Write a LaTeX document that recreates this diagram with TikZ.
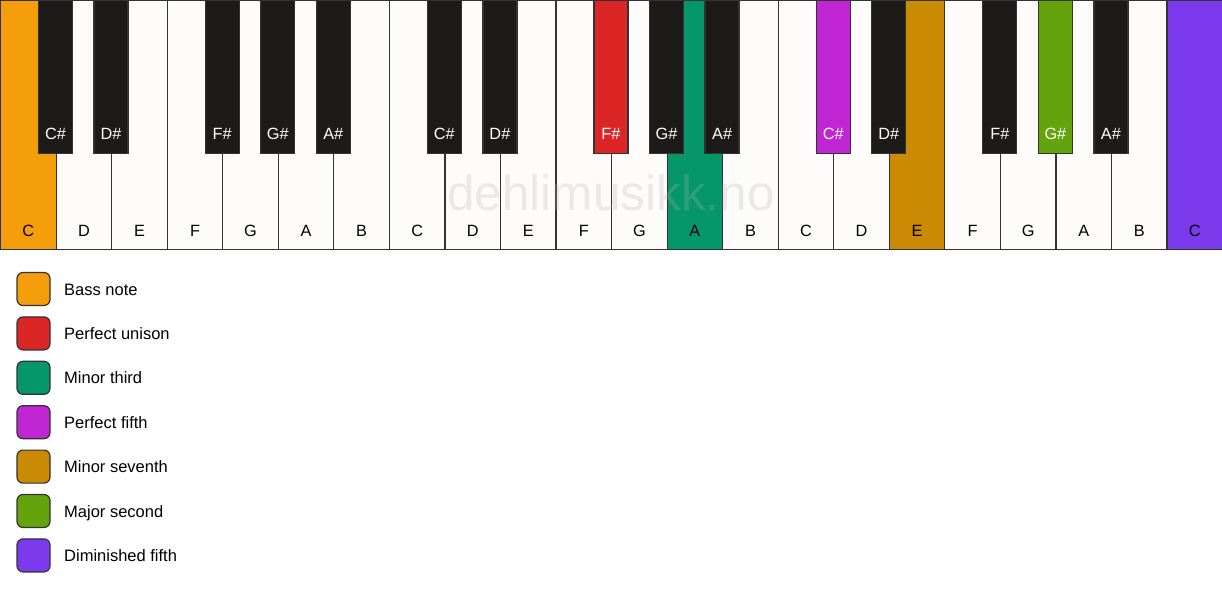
\documentclass[tikz,border=0pt]{standalone}
\usepackage{fontspec}
\setmainfont{Liberation Sans}
\begin{document}
\begin{tikzpicture}[x=1pt,y=-1pt,
  keyline/.style={draw=keyborder,line width=1.2pt},
  whitekey/.style={keyline,fill=keywhite,minimum width=55.545pt,minimum height=249pt,anchor=north west,inner sep=0pt,outer sep=0pt},
  blackkey/.style={keyline,fill=keyblack,minimum width=34pt,minimum height=153pt,anchor=north,inner sep=0pt,outer sep=0pt},
  wlabel/.style={font=\fontsize{16.3}{18}\selectfont,text=black,anchor=base,inner sep=0pt},
  blabel/.style={font=\fontsize{16.3}{18}\selectfont,text=white,anchor=base,inner sep=0pt},
  legbox/.style={draw=keyborder,line width=1.2pt,rounded corners=6pt,minimum width=33pt,minimum height=33pt,inner sep=0pt},
  legtext/.style={font=\fontsize{16.5}{18}\selectfont,anchor=base west,inner sep=0pt},
  watermark/.style={font=\fontsize{49.5}{52}\selectfont,text=gray!60,text opacity=0.25}
]
\definecolor{keyborder}{HTML}{333333}
\definecolor{keywhite}{HTML}{FDFCFA}
\definecolor{keyblack}{HTML}{1C1B1A}
\definecolor{cbass}{HTML}{F59E0B}
\definecolor{cunison}{HTML}{DC2626}
\definecolor{cminthird}{HTML}{059669}
\definecolor{cfifth}{HTML}{C026D3}
\definecolor{cseventh}{HTML}{CA8A04}
\definecolor{csecond}{HTML}{65A30D}
\definecolor{cdim}{HTML}{7C3AED}
\useasboundingbox (0,0) rectangle (1222,594);
\fill[white] (0,0) rectangle (1222,594);
% white keys
\foreach \i/\n/\c in {0/C/cbass,1/D/keywhite,2/E/keywhite,3/F/keywhite,4/G/keywhite,5/A/keywhite,6/B/keywhite,
  7/C/keywhite,8/D/keywhite,9/E/keywhite,10/F/keywhite,11/G/keywhite,12/A/cminthird,13/B/keywhite,
  14/C/keywhite,15/D/keywhite,16/E/cseventh,17/F/keywhite,18/G/keywhite,19/A/keywhite,20/B/keywhite,21/C/cdim}{
  \node[whitekey,fill=\c] (w\i) at (\i*55.545+0.6,0.6) {};
  \node[wlabel] (wl\i) at ([yshift=13pt]w\i.south) {\n};
}
% watermark
\node[watermark] (wm) at (611,193) {dehlimusikk.no};
% black keys
\foreach \b/\n/\c in {1/C\#/keyblack,2/D\#/keyblack,4/F\#/keyblack,5/G\#/keyblack,6/A\#/keyblack,
  8/C\#/keyblack,9/D\#/keyblack,11/F\#/cunison,12/G\#/keyblack,13/A\#/keyblack,
  15/C\#/cfifth,16/D\#/keyblack,18/F\#/keyblack,19/G\#/csecond,20/A\#/keyblack}{
  \node[blackkey,fill=\c] (b\b) at (\b*55.545,0.6) {};
  \node[blabel] (bl\b) at ([yshift=14pt]b\b.south) {\n};
}
% legend
\foreach \k/\c/\t in {0/cbass/Bass note,1/cunison/Perfect unison,2/cminthird/Minor third,
  3/cfifth/Perfect fifth,4/cseventh/Minor seventh,5/csecond/Major second,6/cdim/Diminished fifth}{
  \node[legbox,fill=\c] (lb\k) at (33.5,289+\k*44.4) {};
  \node[legtext] (lt\k) at (64,295+\k*44.4) {\t};
}
\end{tikzpicture}
\end{document}
